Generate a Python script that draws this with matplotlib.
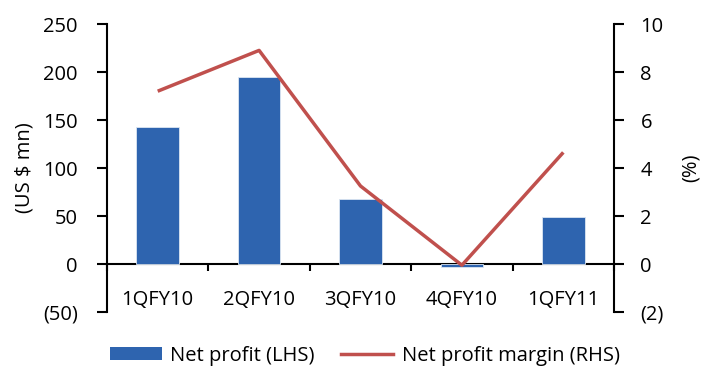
import matplotlib
matplotlib.use("Agg")
import matplotlib.pyplot as plt
from matplotlib.patches import Patch
from matplotlib.lines import Line2D

quarters = ["1QFY10", "2QFY10", "3QFY10", "4QFY10", "1QFY11"]
net_profit = [143, 195, 68, -3, 49]          # US$ mn (LHS)
net_margin = [7.2, 8.9, 3.25, -0.05, 4.65]   # % (RHS)
lhs_ticks = [-50, 0, 50, 100, 150, 200, 250]
lhs_labels = ["(50)", "0", "50", "100", "150", "200", "250"]
rhs_ticks = [-2, 0, 2, 4, 6, 8, 10]
rhs_labels = ["(2)", "0", "2", "4", "6", "8", "10"]

BAR = "#2E64AF"
LINE = "#C0504D"

plt.rcParams["font.family"] = ["Open Sans", "DejaVu Sans"]
plt.rcParams["font.size"] = 14.5

fig = plt.figure(figsize=(7.05, 3.67), dpi=100)
ax = fig.add_axes([107 / 705, 1 - 312 / 367, 507 / 705, 288 / 367])
ax2 = ax.twinx()

x = list(range(len(quarters)))
ax.bar(x, net_profit, width=0.42, color=BAR, edgecolor="#DCE6F2", linewidth=0.6, zorder=2)
ax2.plot(x, net_margin, color=LINE, linewidth=2.5, solid_capstyle="butt", zorder=3)

ax.set_xlim(-0.5, len(quarters) - 0.5)
ax.set_ylim(-50, 250)
ax2.set_ylim(-2, 10)

ax.set_yticks(lhs_ticks)
ax.set_yticklabels(lhs_labels)
ax2.set_yticks(rhs_ticks)
ax2.set_yticklabels(rhs_labels)

ax.set_xticks([i - 0.5 for i in range(len(quarters) + 1)])
ax.set_xticklabels([])
ax.set_xticks(x, minor=True)
ax.set_xticklabels(quarters, minor=True)
ax.tick_params(axis="x", which="major", direction="out", length=5, width=1.5, color="black")
ax.tick_params(axis="x", which="minor", length=0, pad=19)

ax.tick_params(axis="y", direction="out", length=7, width=1.5, pad=14)
ax2.tick_params(axis="y", direction="out", length=7, width=1.5, pad=12)

for a in (ax, ax2):
    a.spines["top"].set_visible(False)
    a.spines["left"].set_linewidth(1.5)
    a.spines["right"].set_linewidth(1.5)
ax.spines["right"].set_visible(False)
ax2.spines["left"].set_visible(False)
ax2.spines["bottom"].set_visible(False)
ax.spines["bottom"].set_position(("data", 0))
ax.spines["bottom"].set_linewidth(1.5)
ax.spines["bottom"].set_zorder(1)

ax.set_ylabel("(US $ mn)", labelpad=6)
ax2.set_ylabel("(%)", labelpad=12)

handles = [
    Patch(facecolor=BAR, edgecolor="none"),
    Line2D([], [], color=LINE, linewidth=2.5),
]
fig.legend(handles, ["Net profit (LHS)", "Net profit margin (RHS)"],
           loc="lower left", bbox_to_anchor=(109 / 705, 0.0), ncol=2, frameon=False,
           handlelength=2.6, handleheight=0.62, columnspacing=1.3,
           handletextpad=0.4, borderpad=0, borderaxespad=0.05)

fig.savefig("out.png", dpi=100)
